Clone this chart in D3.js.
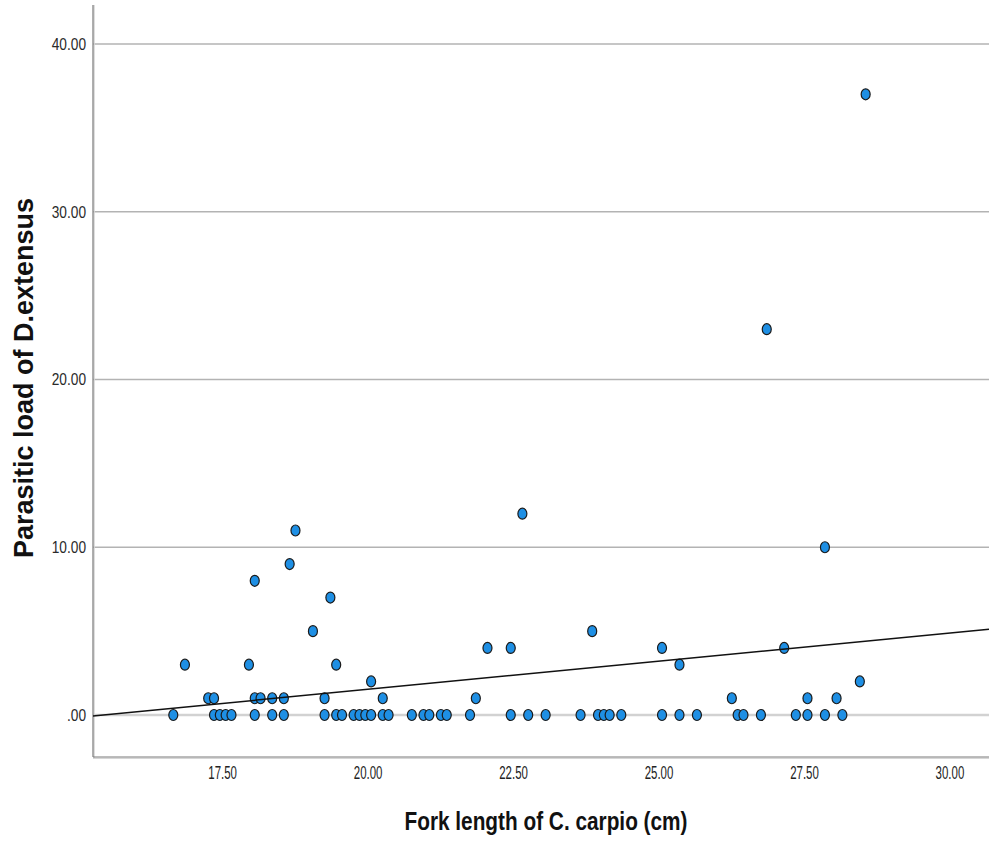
<!DOCTYPE html>
<html>
<head>
<meta charset="utf-8">
<script src="https://cdn.jsdelivr.net/npm/d3@7"></script>
<style>
  html, body { margin: 0; padding: 0; background: #fff; }
  svg { display: block; }
</style>
</head>
<body>
<svg id="chart" width="989" height="842"></svg>
<script>
// Fork length (cm) and parasite count, one entry per fish, grouped by load
const forkLength = [
  16.6, 17.3, 17.4, 17.5, 17.6, 18.0, 18.3, 18.5, 19.2, 19.4, 19.5, 19.7, 19.8, 19.9,
  20.0, 20.2, 20.3, 20.7, 20.9, 21.0, 21.2, 21.3, 21.7, 22.4, 22.7, 23.0, 23.6, 23.9,
  24.0, 24.1, 24.3, 25.0, 25.3, 25.6, 26.3, 26.4, 26.7, 27.3, 27.5, 27.8, 28.1,
  17.2, 17.3, 18.0, 18.1, 18.3, 18.5, 19.2, 20.2, 21.8, 26.2, 27.5, 28.0,
  20.0, 28.4,
  16.8, 17.9, 19.4, 25.3,
  22.0, 22.4, 25.0, 27.1,
  19.0, 23.8,
  19.3, 18.0, 18.6, 27.8, 18.7, 22.6, 26.8, 28.5
];
const parasiteLoad = [
  0, 0, 0, 0, 0, 0, 0, 0, 0, 0, 0, 0, 0, 0,
  0, 0, 0, 0, 0, 0, 0, 0, 0, 0, 0, 0, 0, 0,
  0, 0, 0, 0, 0, 0, 0, 0, 0, 0, 0, 0, 0,
  1, 1, 1, 1, 1, 1, 1, 1, 1, 1, 1, 1,
  2, 2,
  3, 3, 3, 3,
  4, 4, 4, 4,
  5, 5,
  7, 8, 9, 10, 11, 12, 23, 37
];

// Linear fit (total population): load = intercept + slope * length
const fitIntercept = -5.17;
const fitSlope = 0.336;

const xTicks = [17.5, 20, 22.5, 25, 27.5, 30];
const yTicks = [0, 10, 20, 30, 40];
const xDomain = [15.22, 30.62];

const xTitle = "Fork length of C. carpio (cm)";
const yTitle = "Parasitic load of D.extensus";

const fishes = forkLength.map((len, i) => ({ len, load: parasiteLoad[i] }));

const svg = d3.select("#chart");
const plotLeft = 93, plotRight = 989, plotTop = 5, plotBottom = 757;

const x = d3.scaleLinear().domain(xDomain).range([plotLeft, plotRight]);
const y = d3.scaleLinear().domain([0, 40]).range([715, 44]);

// Horizontal reference lines
svg.append("g").selectAll("line")
  .data(yTicks)
  .join("line")
  .attr("x1", plotLeft).attr("x2", plotRight)
  .attr("y1", d => y(d)).attr("y2", d => y(d))
  .attr("stroke", d => d === 0 ? "#d2d2d2" : "#b3b3b3")
  .attr("stroke-width", d => d === 0 ? 2.5 : 1.4);

// Frame: left and bottom axis lines with a soft shadow
const frame = svg.append("g");
frame.append("line").attr("x1", plotLeft + 1.2).attr("x2", plotLeft + 1.2).attr("y1", plotTop).attr("y2", plotBottom + 1)
  .attr("stroke", "#d6d6d6").attr("stroke-width", 1.2);
frame.append("line").attr("x1", plotLeft).attr("x2", plotRight).attr("y1", plotBottom + 1.4).attr("y2", plotBottom + 1.4)
  .attr("stroke", "#d6d6d6").attr("stroke-width", 1.4);
frame.append("line").attr("x1", plotLeft).attr("x2", plotLeft).attr("y1", plotTop).attr("y2", plotBottom)
  .attr("stroke", "#7a7a7a").attr("stroke-width", 1.2);
frame.append("line").attr("x1", plotLeft).attr("x2", plotRight).attr("y1", plotBottom).attr("y2", plotBottom)
  .attr("stroke", "#7a7a7a").attr("stroke-width", 1.2);

// Y axis tick labels
const yFmt = d => d === 0 ? ".00" : d3.format(".2f")(d);
const yk = 0.83;
const yAxis = svg.append("g")
  .attr("transform", `translate(${plotLeft},0)`)
  .call(d3.axisLeft(y).tickValues(yTicks).tickFormat(yFmt).tickSize(0).tickPadding(7));
yAxis.select(".domain").remove();
yAxis.selectAll("text")
  .attr("font-family", "'Liberation Sans', Arial, sans-serif")
  .attr("font-size", 16.5)
  .attr("fill", "#2a2a2a")
  .attr("x", -7 / yk)
  .attr("transform", `scale(${yk},1)`);

// X axis tick labels
const xk = 0.62;
const xAxis = svg.append("g")
  .attr("transform", `translate(0,${plotBottom})`)
  .call(d3.axisBottom(x).tickValues(xTicks).tickFormat(d3.format(".2f")).tickSize(0).tickPadding(9));
xAxis.select(".domain").remove();
xAxis.selectAll(".tick")
  .attr("transform", d => `translate(${x(d) - 3},0)`);
xAxis.selectAll("text")
  .attr("font-family", "'Liberation Sans', Arial, sans-serif")
  .attr("font-size", 18.5)
  .attr("fill", "#222")
  .attr("transform", `scale(${xk},1)`);

// Points
svg.append("g").selectAll("ellipse")
  .data(fishes)
  .join("ellipse")
  .attr("cx", d => x(d.len))
  .attr("cy", d => y(d.load))
  .attr("rx", 4.5)
  .attr("ry", 5.5)
  .attr("fill", "#1e8fe4")
  .attr("stroke", "#1a1a1a")
  .attr("stroke-width", 1.2);

// Fit line drawn over the points
svg.append("line")
  .attr("x1", x(xDomain[0])).attr("y1", y(fitIntercept + fitSlope * xDomain[0]))
  .attr("x2", x(xDomain[1])).attr("y2", y(fitIntercept + fitSlope * xDomain[1]))
  .attr("stroke", "#111")
  .attr("stroke-width", 1.5);

// Axis titles
svg.append("text")
  .attr("transform", `translate(546,830) scale(0.785,1)`)
  .attr("text-anchor", "middle")
  .attr("font-family", "'Liberation Sans', Arial, sans-serif")
  .attr("font-weight", "bold")
  .attr("font-size", 26.5)
  .attr("fill", "#111")
  .text(xTitle);

svg.append("text")
  .attr("transform", "translate(33,378) rotate(-90)")
  .attr("text-anchor", "middle")
  .attr("font-family", "'Liberation Sans', Arial, sans-serif")
  .attr("font-weight", "bold")
  .attr("font-size", 27)
  .attr("fill", "#111")
  .text(yTitle);
</script>
</body>
</html>
